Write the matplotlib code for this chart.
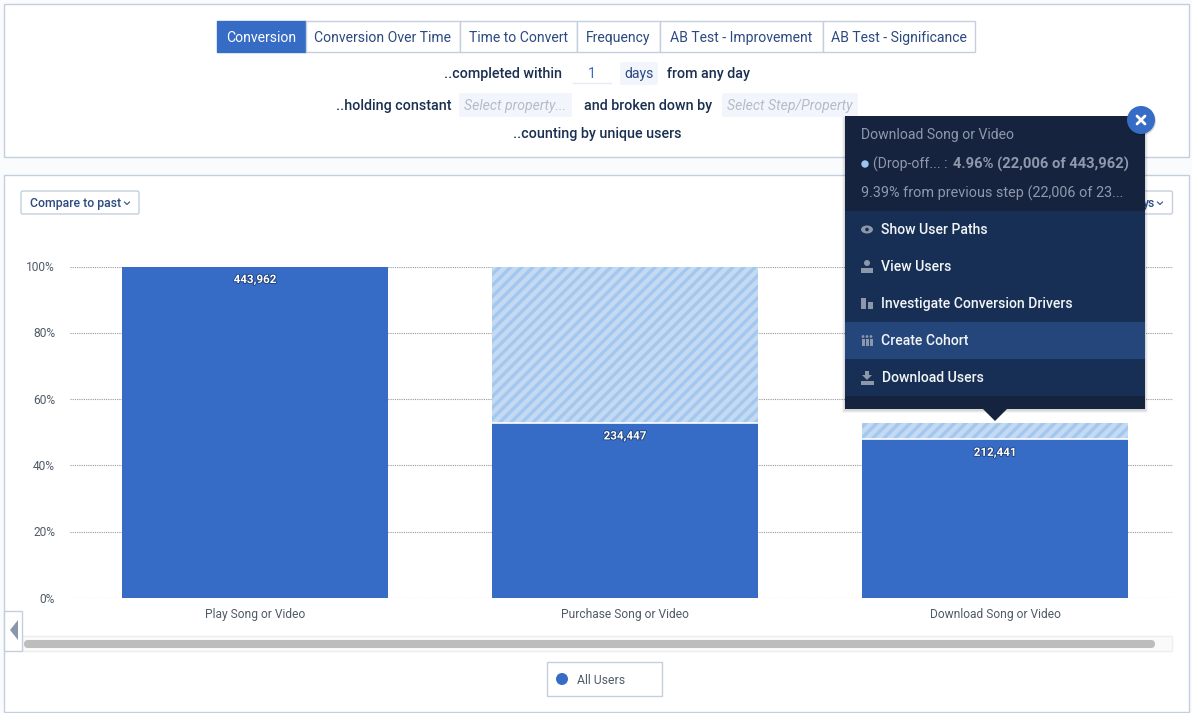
import matplotlib
matplotlib.use("Agg")
import matplotlib.pyplot as plt
import matplotlib.patheffects as pe
from matplotlib.patches import Rectangle, FancyBboxPatch, Polygon, Circle, Ellipse
from matplotlib.ticker import PercentFormatter
from matplotlib.transforms import ScaledTranslation

plt.rcParams['font.family'] = ['Roboto', 'DejaVu Sans']
plt.rcParams['hatch.linewidth'] = 2.4

# chart data
steps = ["Play Song or Video", "Purchase Song or Video", "Download Song or Video"]
converted = [443962, 234447, 212441]
dropped = [0, 209515, 22006]
total_users = 443962
y_ticks = [0, 0.2, 0.4, 0.6, 0.8, 1.0]

# ui text
tabs = ["Conversion", "Conversion Over Time", "Time to Convert", "Frequency",
        "AB Test - Improvement", "AB Test - Significance"]
tab_edges = [217, 306, 460, 577, 660, 823, 975]
menu_items = ["Show User Paths", "View Users", "Investigate Conversion Drivers",
              "Create Cohort", "Download Users"]
menu_tops = [211, 248, 285, 322, 359]

W, H = 1192, 713
NAVY = "#1b3050"
LINK = "#2b4a80"
BLUE = "#366cc6"
LINE = "#c3cfdf"
GREY = "#4f5b68"


def pt(px):
    return px * 0.72


fig = plt.figure(figsize=(W / 100, H / 100), dpi=100, facecolor="#fafbfc")

# background layer, pixel coordinates
bg = fig.add_axes([0, 0, 1, 1], zorder=0)
bg.set_xlim(0, W)
bg.set_ylim(H, 0)
bg.axis("off")

# popup layer, pixel coordinates
fg = fig.add_axes([0, 0, 1, 1], zorder=2)
fg.set_xlim(0, W)
fg.set_ylim(H, 0)
fg.axis("off")
fg.patch.set_alpha(0)


def box(ax, x0, y0, x1, y1, fc="white", ec=LINE, lw=1.0, z=1):
    ax.add_patch(Rectangle((x0, y0), x1 - x0, y1 - y0, fc=fc, ec=ec, lw=lw, zorder=z))


def chevron(ax, x, y, color=LINK):
    ax.plot([x - 2.5, x, x + 2.5], [y - 1, y + 1.5, y - 1], color=color, lw=0.8, zorder=5)


# panels
box(bg, 4, 4, 1189, 157)
box(bg, 4, 175, 1189, 712)

# tab bar
for i, name in enumerate(tabs):
    active = i == 0
    box(bg, tab_edges[i], 21, tab_edges[i + 1], 52,
        fc=BLUE if active else "white", ec=BLUE if active else LINE, z=2)
    bg.text((tab_edges[i] + tab_edges[i + 1]) / 2, 38, name, ha="center", va="center",
            fontsize=pt(14), color="white" if active else LINK, zorder=3)

# query sentence
def label(x, y, s, **kw):
    opts = dict(ha="left", va="center", fontsize=pt(14.2), color=NAVY, fontweight="medium", zorder=3)
    opts.update(kw)
    bg.text(x, y, s, **opts)


label(444, 74, "..completed within")
label(592, 74, "1", ha="center", color=BLUE, fontweight="normal", fontsize=pt(14))
bg.plot([573, 611], [83, 83], color="#e6ebf2", lw=1, zorder=2)
bg.add_patch(FancyBboxPatch((620, 62), 38, 23, boxstyle="round,pad=0,rounding_size=2",
                            fc="#f2f6fc", ec="none", zorder=2))
label(639.5, 74, "days", ha="center", color=LINK, fontweight="normal", fontsize=pt(14))
label(667, 74, "from any day")
label(336, 106, "..holding constant")
bg.add_patch(FancyBboxPatch((459, 93), 113, 24, boxstyle="round,pad=0,rounding_size=2",
                            fc="#f2f6fc", ec="none", zorder=2))
label(464, 106, "Select property...", color="#b4bcc8", style="italic", fontweight="normal", fontsize=pt(14))
label(584, 106, "and broken down by")
bg.add_patch(FancyBboxPatch((722, 93), 136, 24, boxstyle="round,pad=0,rounding_size=2",
                            fc="#f2f6fc", ec="none", zorder=2))
label(727, 106, "Select Step/Property", color="#b4bcc8", style="italic", fontweight="normal", fontsize=pt(14))
label(513, 134, "..counting by unique users")

# chart controls
bg.add_patch(FancyBboxPatch((21, 191), 118, 23, boxstyle="round,pad=0,rounding_size=2",
                            fc="white", ec=LINE, lw=1, zorder=2))
bg.text(30, 203, "Compare to past", ha="left", va="center", fontsize=pt(12.3),
        color=LINK, fontweight="medium", zorder=3)
chevron(bg, 127, 203)
bg.add_patch(FancyBboxPatch((1100, 191), 72.5, 23, boxstyle="round,pad=0,rounding_size=2",
                            fc="white", ec=LINE, lw=1, zorder=2))
bg.text(1143, 203, "ys", ha="left", va="center", fontsize=pt(12.3),
        color=LINK, fontweight="medium", zorder=3)
chevron(bg, 1160, 203)

# scroller and left arrow
box(bg, 22, 636, 1172, 651, fc="#fafafa", ec="#eeeeee", z=2)
bg.add_patch(FancyBboxPatch((24, 640), 1131, 8, boxstyle="round,pad=0,rounding_size=4",
                            fc="#bdbdbd", ec="none", zorder=3))
box(bg, 4, 611, 22, 651, z=3)
bg.add_patch(Polygon([[10, 630], [18, 620], [18, 640]], fc="#8a97ab", ec="none", zorder=4))

# legend
bg.add_patch(Rectangle((547, 662), 114.5, 33.5, fc="white", ec=LINE, lw=1, zorder=2))
bg.add_patch(Circle((562, 679), 6, fc=BLUE, ec="none", zorder=3))
bg.text(577, 680, "All Users", ha="left", va="center", fontsize=pt(12.3), color=GREY, zorder=3)

# chart axes, bars are 266px wide with 370px between centres
ax_left, ax_right, ax_top, ax_bottom = 70, 1173, 266.5, 598
ax = fig.add_axes([ax_left / W, 1 - ax_bottom / H, (ax_right - ax_left) / W, (ax_bottom - ax_top) / H],
                  zorder=1)
ax.patch.set_alpha(0)
ax.set_xlim(-0.5, (ax_right - 255) / 370)
ax.set_ylim(0, 1)
positions = list(range(len(steps)))
conv_share = [c / total_users for c in converted]
drop_share = [d / total_users for d in dropped]
bar_width = 266 / 370
ax.bar(positions, conv_share, width=bar_width, color=BLUE, zorder=3)
ax.bar(positions, drop_share, bottom=conv_share, width=bar_width, facecolor="#c4daf3",
       edgecolor="#a3c7ee", hatch="///", lw=0, zorder=3)
ax.hlines(conv_share[1:], [p - bar_width / 2 for p in positions[1:]],
          [p + bar_width / 2 for p in positions[1:]], color="white", lw=1.2, zorder=4)
for p, share, count in zip(positions, conv_share, converted):
    ax.annotate(f"{count:,}", (p, share), xytext=(0, pt(-13)), textcoords="offset points",
                ha="center", va="center", fontsize=pt(11.6), color="white", fontweight="bold", zorder=5,
                path_effects=[pe.withStroke(linewidth=1.2, foreground="#1f3f78")])
ax.set_xticks(positions, steps)
ax.set_yticks(y_ticks)
ax.yaxis.set_major_formatter(PercentFormatter(1.0, decimals=0))
ax.tick_params(length=0, labelsize=pt(12), labelcolor=GREY)
ax.tick_params(axis="y", pad=pt(15))
ax.tick_params(axis="x", pad=pt(10))
nudge_up = ScaledTranslation(0, 0.4 / 100, fig.dpi_scale_trans)
for tick_label in ax.get_yticklabels():
    tick_label.set_transform(tick_label.get_transform() + nudge_up)
ax.grid(axis="y", color="#999999", lw=0.8, linestyle=(0, (1, 1)), zorder=1)
ax.set_axisbelow(True)
for s in ax.spines.values():
    s.set_visible(False)

# tooltip popup
POP_DARK = "#16233f"
POP_MENU = "#172f54"
POP_HILITE = "#24467a"
MUTED = "#8f99ab"
for grow, alpha in [(3, 0.04), (2, 0.05), (1, 0.07)]:
    fg.add_patch(Rectangle((845 - grow, 116 + 1), 300 + 2 * grow, 293 + grow, fc="#000000",
                           alpha=alpha, ec="none", zorder=1))
fg.add_patch(Rectangle((845, 116), 300, 293, fc=POP_DARK, ec="none", zorder=2))
fg.add_patch(Polygon([[983, 409], [1007, 409], [995, 421]], fc=POP_DARK, ec="none", zorder=2))
fg.add_patch(Rectangle((845, 211), 300, 185, fc=POP_MENU, ec="none", zorder=3))
fg.add_patch(Rectangle((845, 322), 300, 37, fc=POP_HILITE, ec="none", zorder=4))

fg.text(861, 135, "Download Song or Video", ha="left", va="center", fontsize=pt(14), color=MUTED, zorder=5)
fg.add_patch(Circle((865, 164), 3.7, fc="#9cc6f0", ec="none", zorder=5))
fg.text(873, 164, "(Drop-off... :", ha="left", va="center", fontsize=pt(14), color=MUTED, zorder=5)
fg.text(953, 164, "4.96% (22,006 of 443,962)", ha="left", va="center", fontsize=pt(14.7),
        color=MUTED, fontweight="bold", zorder=5)
fg.text(861, 193, "9.39% from previous step (22,006 of 23...", ha="left", va="center",
        fontsize=pt(14.4), color=MUTED, zorder=5)

for name, top in zip(menu_items, menu_tops):
    fg.text(881 if name != "Download Users" else 882, top + 19, name, ha="left", va="center",
            fontsize=pt(14), color="#f2f4f8", fontweight="medium", zorder=5)

# menu icons
ICON = "#8c97a9"
fg.add_patch(Ellipse((867, 229.5), 12, 8, fc=ICON, ec="none", zorder=5))
fg.add_patch(Circle((867, 229.5), 1.8, fc=POP_MENU, ec="none", zorder=6))
fg.add_patch(Circle((867, 263), 3, fc=ICON, ec="none", zorder=5))
fg.add_patch(Rectangle((861, 268), 12, 4.5, fc=ICON, ec="none", zorder=5))
fg.add_patch(Rectangle((861, 298), 5, 11, fc=ICON, ec="none", zorder=5))
fg.add_patch(Rectangle((868, 302), 5, 7, fc=ICON, ec="none", zorder=5))
for cx in [863, 867, 871]:
    fg.add_patch(Circle((cx, 336.5), 1.4, fc=ICON, ec="none", zorder=5))
    fg.add_patch(Rectangle((cx - 1.5, 338.5), 3, 7, fc=ICON, ec="none", zorder=5))
fg.add_patch(Polygon([[865, 371], [869, 371], [869, 375], [872, 375], [867, 380], [862, 375], [865, 375]],
                     fc=ICON, ec="none", zorder=5))
fg.add_patch(Rectangle((861, 381), 13, 3.5, fc=ICON, ec="none", zorder=5))

# close button
fg.add_patch(Circle((1141.5, 121), 14.5, fc="#000000", alpha=0.15, ec="none", zorder=6))
fg.add_patch(Circle((1141, 120), 14, fc=BLUE, ec="none", zorder=7))
fg.plot([1137, 1145], [116, 124], color="white", lw=2, zorder=8, solid_capstyle="round")
fg.plot([1145, 1137], [116, 124], color="white", lw=2, zorder=8, solid_capstyle="round")

fig.savefig("out.png", dpi=100, facecolor=fig.get_facecolor())
